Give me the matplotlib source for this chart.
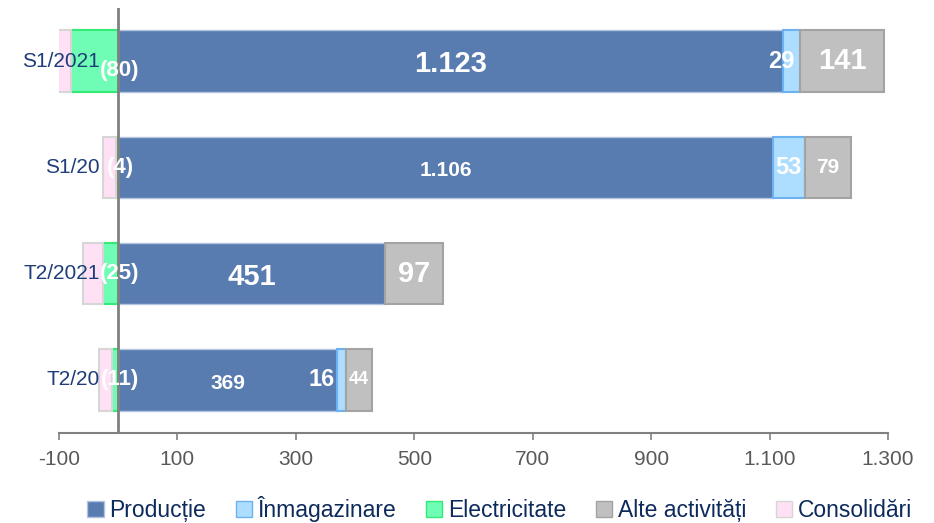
import matplotlib.pyplot as plt
from matplotlib.patches import Patch
from matplotlib.transforms import offset_copy

plt.rcParams['font.family'] = ['Liberation Sans', 'DejaVu Sans']

# Date (mil. lei)
categories = ['S1/2021', 'S1/20', 'T2/2021', 'T2/20']
productie = [1123, 1106, 451, 369]
inmagazinare = [29, 53, 0, 16]
electricitate = [-80, -4, -25, -11]
alte = [141, 79, 97, 44]
consolidari = [-22, -22, -35, -21]

xticks = [-100, 100, 300, 500, 700, 900, 1100, 1300]


def fmt(v):
    if v < 0:
        return '(%d)' % abs(v)
    return '{:,}'.format(v).replace(',', '.')


# marimea etichetelor pe fiecare rand
lbl_size = [
    {'prod': 21, 'inm': 17, 'alte': 21, 'el': 16},
    {'prod': 15, 'inm': 17, 'alte': 15, 'el': 16},
    {'prod': 21, 'inm': 17, 'alte': 21, 'el': 16},
    {'prod': 15, 'inm': 17, 'alte': 13, 'el': 16},
]

fig = plt.figure(figsize=(9.34, 5.23), dpi=100)
ax = fig.add_axes([59 / 934, 1 - 433 / 523, 829 / 934, 425 / 523])

y = list(range(len(categories)))
h = 0.58

c_prod, e_prod = '#587BB0', '#B3C4E0'
c_inm, e_inm = '#ADDEFF', '#6CB2F2'
c_el, e_el = '#6FFDB5', '#33EA77'
c_alte, e_alte = '#C0C0C0', '#A3A3A3'
c_cons, e_cons = '#FFE0F5', '#D6D6D6'

ax.barh(y, productie, height=h, color=c_prod, edgecolor=e_prod, linewidth=1, zorder=2)
left_inm = productie
ax.barh(y, inmagazinare, left=left_inm, height=h, color=c_inm, edgecolor=e_inm, linewidth=1.5, zorder=2)
left_alte = [p + i for p, i in zip(productie, inmagazinare)]
ax.barh(y, alte, left=left_alte, height=h, color=c_alte, edgecolor=e_alte, linewidth=1.5, zorder=2)
ax.barh(y, electricitate, height=h, color=c_el, edgecolor=e_el, linewidth=1.5, zorder=2)
ax.barh(y, consolidari, left=electricitate, height=h, color=c_cons, edgecolor=e_cons, linewidth=1.5, zorder=2)

ax.axvline(0, color='#808080', linewidth=2, zorder=3)

txt = dict(color='white', fontweight='bold', va='center', zorder=5)
for i in y:
    s = lbl_size[i]
    ax.text(productie[i] / 2, i + 0.03, fmt(productie[i]), ha='center', fontsize=s['prod'], **txt)
    if inmagazinare[i]:
        cx = left_inm[i] + inmagazinare[i] / 2
        tr = ax.transData
        if inmagazinare[i] < 40:
            tr = offset_copy(ax.transData, fig=fig, x=-10 if i == 0 else -20, y=0, units='dots')
        ax.text(cx, i, fmt(inmagazinare[i]), ha='center', fontsize=s['inm'], transform=tr, **txt)
    ax.text(left_alte[i] + alte[i] / 2, i, fmt(alte[i]), ha='center', fontsize=s['alte'], **txt)
    ty = i + (0.09 if i == 0 else 0)
    ax.text(3, ty, fmt(electricitate[i]), ha='center', fontsize=s['el'], **txt)
    # eticheta categoriei, desenata peste bare
    ax.text(-31, i, categories[i], ha='right', va='center', fontsize=15,
            color='#1F3D7A', zorder=6)

ax.set_xlim(-100, 1300)
ax.set_ylim(3.5, -0.5)
ax.set_xticks(xticks)
ax.set_xticklabels(['{:,}'.format(v).replace(',', '.') for v in xticks])
ax.tick_params(axis='x', direction='out', length=5, width=1.2, color='#808080',
               labelcolor='#595959', labelsize=15, pad=7)
ax.set_yticks([])

for sp in ['left', 'top', 'right']:
    ax.spines[sp].set_visible(False)
ax.spines['bottom'].set_color('#808080')
ax.spines['bottom'].set_linewidth(1.5)

handles = [
    Patch(facecolor=c_prod, edgecolor=e_prod, label='Producție'),
    Patch(facecolor=c_inm, edgecolor=e_inm, label='Înmagazinare'),
    Patch(facecolor=c_el, edgecolor=e_el, label='Electricitate'),
    Patch(facecolor=c_alte, edgecolor=e_alte, label='Alte activități'),
    Patch(facecolor=c_cons, edgecolor=e_cons, label='Consolidări'),
]
leg = fig.legend(handles=handles, loc='center', bbox_to_anchor=(0.535, 1 - 509 / 523), ncol=5,
                 frameon=False, fontsize=16.5, handlelength=0.7, handleheight=0.7,
                 handletextpad=0.25, columnspacing=1.3, labelcolor='#0D2A5C')

fig.savefig('out.png', dpi=100)
